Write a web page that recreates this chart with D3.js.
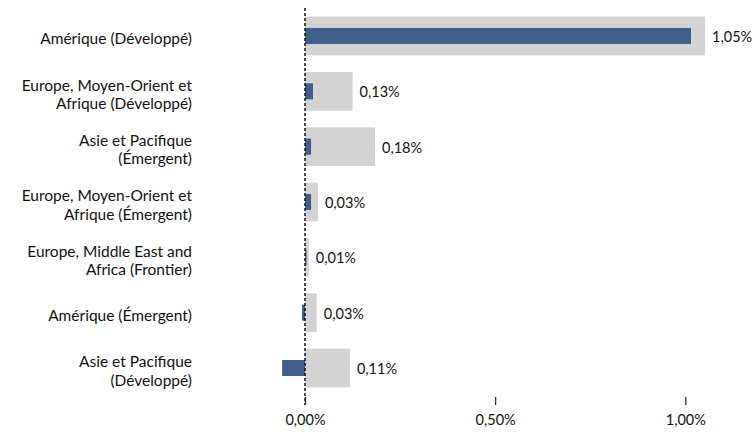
<!DOCTYPE html>
<html>
<head>
<meta charset="utf-8">
<script src="https://cdn.jsdelivr.net/npm/d3@7"></script>
<style>
  body { margin: 0; background: #fff; }
  svg text { font-family: Lato, "Open Sans", sans-serif; fill: #111; }
</style>
</head>
<body>
<div id="chart"></div>
<script>
var categories = [
  ["Amérique (Développé)"],
  ["Europe, Moyen-Orient et", "Afrique (Développé)"],
  ["Asie et Pacifique", "(Émergent)"],
  ["Europe, Moyen-Orient et", "Afrique (Émergent)"],
  ["Europe, Middle East and", "Africa (Frontier)"],
  ["Amérique (Émergent)"],
  ["Asie et Pacifique", "(Développé)"]
];
var grayValues = [1.052, 0.125, 0.184, 0.034, 0.01, 0.031, 0.118];
var grayLabels = ["1,05%", "0,13%", "0,18%", "0,03%", "0,01%", "0,03%", "0,11%"];
var blueValues = [1.015, 0.021, 0.016, 0.016, 0.004, -0.008, -0.06];
var tickValues = [0, 0.5, 1];
var tickLabels = ["0,00%", "0,50%", "1,00%"];

var width = 754,
    height = 433,
    x0 = 305,
    x1 = 685.3,
    fontSize = "15.5px",
    valueSize = "14.5px";

var svg = d3.select("#chart").append("svg")
    .attr("width", width)
    .attr("height", height);

var x = d3.scaleLinear()
    .domain([0, 1])
    .range([x0, x1]);

var y = d3.scaleBand()
    .domain(d3.range(categories.length))
    .range([8.3, 395.7])
    .paddingInner(0.3)
    .paddingOuter(0.15);

// gray bars
svg.selectAll(".gray")
    .data(grayValues)
    .enter().append("rect")
    .attr("class", "gray")
    .attr("x", function(d) { return x(Math.min(0, d)); })
    .attr("y", function(d, i) { return y(i); })
    .attr("width", function(d) { return Math.abs(x(d) - x(0)); })
    .attr("height", y.bandwidth())
    .attr("fill", "#d3d3d3");

// blue bars
var blueH = 16;
svg.selectAll(".blue")
    .data(blueValues)
    .enter().append("rect")
    .attr("class", "blue")
    .attr("x", function(d) { return x(Math.min(0, d)); })
    .attr("y", function(d, i) { return y(i) + y.bandwidth() / 2 - blueH / 2; })
    .attr("width", function(d) { return Math.abs(x(d) - x(0)); })
    .attr("height", blueH)
    .attr("fill", "#3f5f8a");

// value labels
svg.selectAll(".value")
    .data(grayValues)
    .enter().append("text")
    .attr("class", "value")
    .attr("x", function(d) { return x(d) + 7; })
    .attr("y", function(d, i) { return y(i) + y.bandwidth() / 2 + 1; })
    .attr("dy", ".35em")
    .style("font-size", valueSize)
    .text(function(d, i) { return grayLabels[i]; });

// category labels
var lineH = 18.5;
var cat = svg.selectAll(".cat")
    .data(categories)
    .enter().append("text")
    .attr("class", "cat")
    .attr("text-anchor", "end")
    .style("font-size", fontSize)
    .attr("transform", function(d, i) {
      return "translate(192," + (y(i) + y.bandwidth() / 2 + 3) + ")";
    });
cat.selectAll("tspan")
    .data(function(d) { return d; })
    .enter().append("tspan")
    .attr("x", 0)
    .attr("y", function(d, j, nodes) { return (j - (nodes.length - 1) / 2) * lineH; })
    .attr("dy", ".35em")
    .text(function(d) { return d; });

// zero line
svg.append("line")
    .attr("x1", x(0)).attr("x2", x(0))
    .attr("y1", 8).attr("y2", 405)
    .attr("stroke", "#111")
    .attr("stroke-width", 1.5)
    .attr("stroke-dasharray", "3,2");

// x axis
var xAxis = d3.axisBottom(x)
    .tickValues(tickValues)
    .tickSize(8)
    .tickPadding(10)
    .tickFormat(function(d, i) { return tickLabels[i]; });

var ax = svg.append("g")
    .attr("transform", "translate(0,397)")
    .call(xAxis);
ax.select(".domain").remove();
ax.selectAll(".tick line").attr("stroke", "#222").attr("stroke-width", 1.2);
ax.selectAll(".tick text")
    .style("font-family", "Lato, 'Open Sans', sans-serif")
    .style("font-size", valueSize)
    .attr("fill", "#111");
</script>
</body>
</html>
